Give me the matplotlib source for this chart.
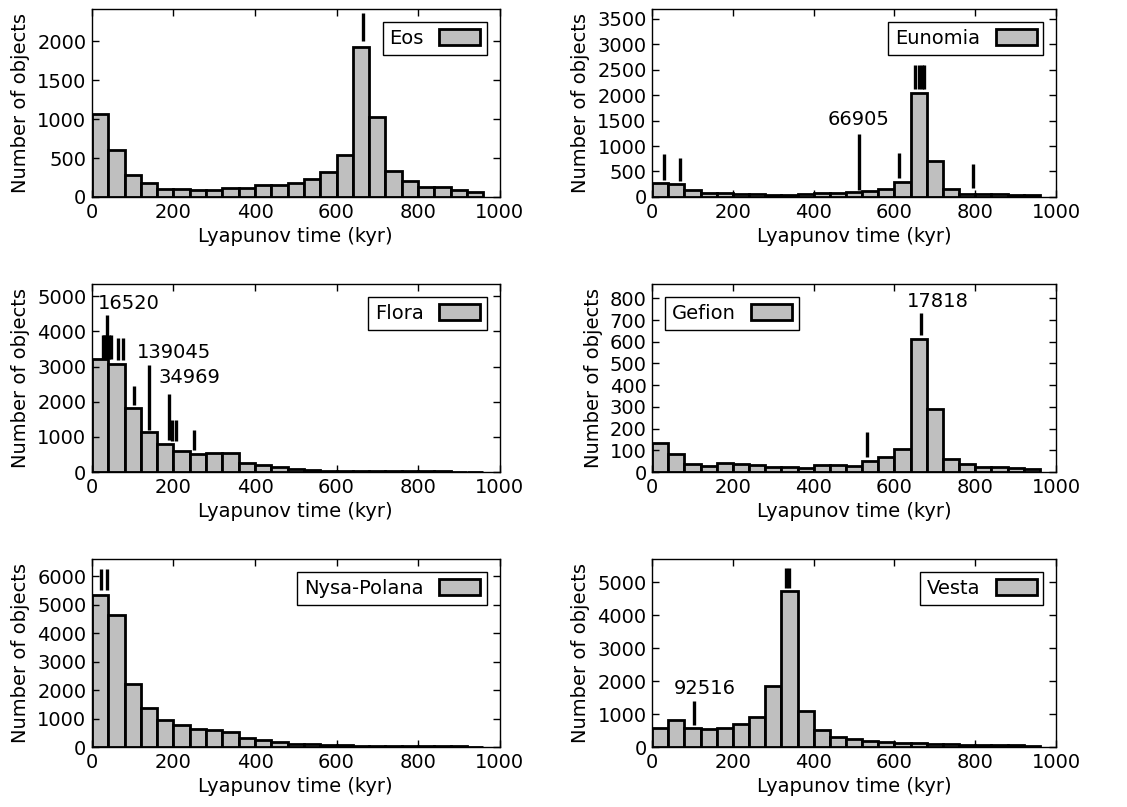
import numpy as np
import matplotlib.pyplot as plt

# Lyapunov time histograms, 40 kyr bins from 0 to 960 kyr
bin_edges = np.arange(0, 960, 40)
bin_width = 40

families = ['Eos', 'Eunomia', 'Flora', 'Gefion', 'Nysa-Polana', 'Vesta']

eos_counts = [1065, 598, 278, 175, 107, 98, 90, 94, 111, 111, 150, 150,
              184, 235, 320, 534, 1925, 1033, 333, 205, 132, 124, 94, 64]
eunomia_counts = [267, 253, 133, 80, 80, 67, 50, 40, 40, 60, 75, 80,
                  93, 113, 153, 300, 2046, 704, 153, 67, 53, 53, 45, 33]
flora_counts = [3227, 3084, 1822, 1129, 807, 607, 503, 531, 531, 266, 190, 133,
                76, 47, 38, 38, 28, 28, 19, 19, 19, 19, 10, 10]
gefion_counts = [135, 84, 38, 29, 40, 35, 32, 25, 25, 20, 31, 32,
                 28, 49, 68, 108, 614, 290, 61, 35, 25, 25, 17, 14]
nysa_counts = [5333, 4629, 2203, 1371, 938, 762, 645, 586, 527, 316, 246, 164,
               117, 105, 70, 59, 47, 47, 35, 35, 35, 23, 23, 12]
vesta_counts = [578, 831, 578, 548, 578, 690, 913, 1856, 4736, 1095, 517, 304,
                233, 172, 142, 122, 112, 101, 81, 71, 61, 61, 51, 30]

counts = [eos_counts, eunomia_counts, flora_counts, gefion_counts, nysa_counts, vesta_counts]
y_tops = [2410, 3680, 5340, 864, 6590, 5700]
y_steps = [500, 500, 1000, 100, 1000, 1000]
legend_locs = ['upper right', 'upper right', 'upper right', 'upper left', 'upper right', 'upper right']

# Lyapunov times of individual members (kyr) and the vertical extent of their tick
eos_members = [(664, 2000, 2360)]
eunomia_members = [(30, 340, 840), (70, 310, 770), (512, 145, 1230), (612, 375, 855),
                   (794, 180, 650), (652, 2120, 2580), (660, 2120, 2580),
                   (667, 2120, 2580), (674, 2120, 2580)]
flora_members = [(26, 3230, 3890), (30, 3230, 3890), (34, 3230, 3890), (38, 3320, 4460),
                 (42, 3230, 3890), (46, 3230, 3890), (63, 3200, 3800), (75, 3200, 3800),
                 (102, 1900, 2440), (139, 1190, 3040), (189, 900, 2210),
                 (196, 880, 1470), (207, 880, 1470), (251, 620, 1190)]
gefion_members = [(665, 630, 733), (533, 69, 184)]
nysa_members = [(22, 5510, 6270), (38, 5510, 6270)]
vesta_members = [(332, 4840, 5425), (338, 4840, 5425), (104, 680, 1390)]
members = [eos_members, eunomia_members, flora_members, gefion_members, nysa_members, vesta_members]

# named members: (number, x, y) of the text
eunomia_names = [('66905', 511, 1330)]
flora_names = [('16520', 91, 4530), ('139045', 202, 3140), ('34969', 240, 2420)]
gefion_names = [('17818', 707, 740)]
vesta_names = [('92516', 130, 1480)]
names = [[], eunomia_names, flora_names, gefion_names, [], vesta_names]

fs = 14

fig = plt.figure(figsize=(11.27, 8.07), dpi=100)
lefts = [0.0816, 0.5787]
widths = [0.3617, 0.3583]
bottoms = [0.7559, 0.4151, 0.0743]
h = 0.2325

for i, fam in enumerate(families):
    row, col = divmod(i, 2)
    ax = fig.add_axes([lefts[col], bottoms[row], widths[col], h])
    ax.bar(bin_edges, counts[i], width=bin_width, align='edge',
           color='#bfbfbf', edgecolor='black', linewidth=2.0, label=fam)
    for x, y0, y1 in members[i]:
        ax.plot([x, x], [y0, y1], color='black', linewidth=2.4, solid_capstyle='butt')
    for txt, x, y in names[i]:
        ax.text(x, y, txt, ha='center', va='bottom', fontsize=fs)
    ax.set_xlim(0, 1000)
    ax.set_ylim(0, y_tops[i])
    ax.set_xticks(range(0, 1001, 200))
    ax.set_yticks(np.arange(0, y_tops[i], y_steps[i]))
    ax.tick_params(direction='in', top=True, right=True, length=5, width=1,
                   labelsize=fs, pad=4)
    for sp in ax.spines.values():
        sp.set_linewidth(1.0)
    ax.set_xlabel('Lyapunov time (kyr)', fontsize=fs, labelpad=4)
    ax.set_ylabel('Number of objects', fontsize=fs, labelpad=5)
    leg = ax.legend(loc=legend_locs[i], markerfirst=False, fancybox=False,
                    framealpha=1, edgecolor='black', fontsize=fs,
                    handlelength=2.1, handleheight=0.85, handletextpad=0.8,
                    borderaxespad=0.65, borderpad=0.35)
    leg.get_frame().set_linewidth(1.0)

fig.savefig('out.png', dpi=100)
